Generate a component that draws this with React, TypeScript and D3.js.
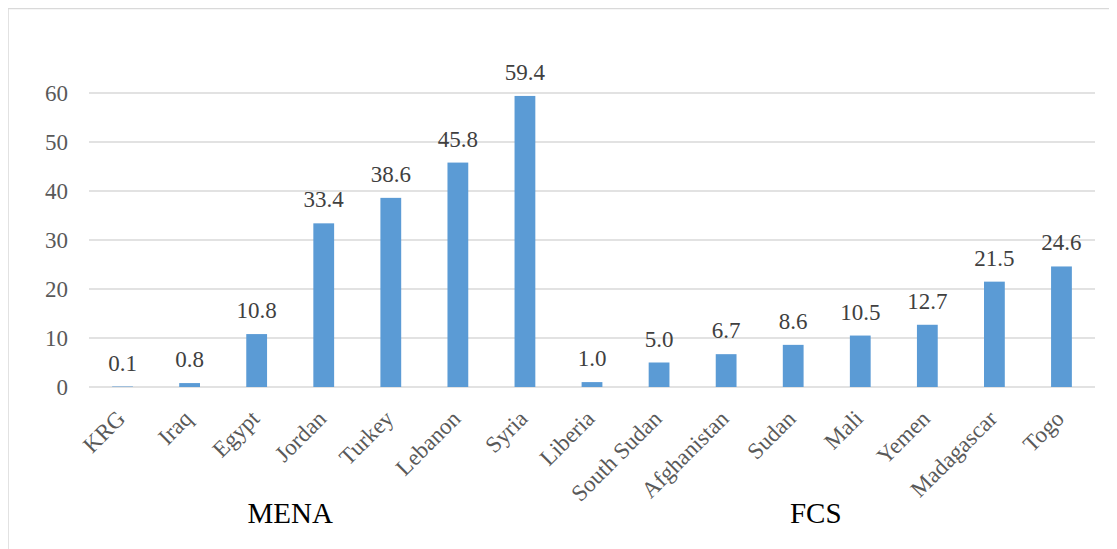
import { useEffect, useRef } from 'react'
import * as d3 from 'd3'

const countries = [
    'KRG', 'Iraq', 'Egypt', 'Jordan', 'Turkey', 'Lebanon', 'Syria',
    'Liberia', 'South Sudan', 'Afghanistan', 'Sudan', 'Mali', 'Yemen', 'Madagascar', 'Togo',
]
const values = [0.1, 0.8, 10.8, 33.4, 38.6, 45.8, 59.4, 1.0, 5.0, 6.7, 8.6, 10.5, 12.7, 21.5, 24.6]
const yTicks = [0, 10, 20, 30, 40, 50, 60]
const groups = [
    { name: 'MENA', at: 'Jordan', shift: 0 },
    { name: 'FCS', at: 'Mali', shift: -11 },
]

const App = () => {
    const ref = useRef<SVGSVGElement>(null)

    useEffect(() => {
        const width = 1109
        const height = 541
        const margin = { left: 81, right: 22, top: 85, bottom: 162 }
        const font = '"Liberation Serif", "Times New Roman", serif'

        const svg = d3.select(ref.current)
        svg.selectAll('*').remove()

        // frame (only top and left edges visible)
        svg.append('path')
            .attr('d', `M0,${height}V0.5H${width}`)
            .attr('fill', 'none')
            .attr('stroke', '#d9d9d9')
            .attr('stroke-width', 1.5)

        const x = d3
            .scaleBand()
            .domain(countries)
            .range([margin.left, width - margin.right])
            .paddingInner(0.69)
            .paddingOuter(0.345)

        const y = d3
            .scaleLinear()
            .domain([0, 60])
            .range([height - margin.bottom, margin.top])

        // gridlines
        svg.append('g')
            .selectAll('line')
            .data(yTicks)
            .join('line')
            .attr('x1', margin.left)
            .attr('x2', width - margin.right)
            .attr('y1', (d) => y(d))
            .attr('y2', (d) => y(d))
            .attr('stroke', '#d9d9d9')
            .attr('stroke-width', 1.5)

        // y tick labels
        svg.append('g')
            .selectAll('text')
            .data(yTicks)
            .join('text')
            .attr('x', margin.left - 21)
            .attr('y', (d) => y(d))
            .attr('dy', '0.35em')
            .attr('text-anchor', 'end')
            .attr('font-family', font)
            .attr('font-size', 23)
            .attr('fill', '#595959')
            .text((d) => d)

        // bars
        svg.append('g')
            .selectAll('rect')
            .data(values)
            .join('rect')
            .attr('x', (_, i) => x(countries[i]) as number)
            .attr('width', x.bandwidth())
            .attr('y', (d) => y(d))
            .attr('height', (d) => y(0) - y(d))
            .attr('fill', '#5b9bd5')

        // value labels
        svg.append('g')
            .selectAll('text')
            .data(values)
            .join('text')
            .attr('x', (_, i) => (x(countries[i]) as number) + x.bandwidth() / 2)
            .attr('y', (d) => y(d) - 16)
            .attr('text-anchor', 'middle')
            .attr('font-family', font)
            .attr('font-size', 23)
            .attr('fill', '#404040')
            .text((d) => d.toFixed(1))

        // category labels
        svg.append('g')
            .selectAll('text')
            .data(countries)
            .join('text')
            .attr('transform', (d) => {
                const cx = (x(d) as number) + x.bandwidth() / 2 + 4
                return `translate(${cx},${y(0) + 33}) rotate(-45)`
            })
            .attr('text-anchor', 'end')
            .attr('font-family', font)
            .attr('font-size', 23)
            .attr('fill', '#595959')
            .text((d) => d)

        // group labels
        svg.append('g')
            .selectAll('text')
            .data(groups)
            .join('text')
            .attr('x', (d) => (x(d.at) as number) - x.step() * x.paddingInner() / 2 + d.shift)
            .attr('y', height - 26)
            .attr('text-anchor', 'middle')
            .attr('font-family', font)
            .attr('font-size', 29)
            .attr('fill', '#000')
            .text((d) => d.name)
    }, [])

    return <svg ref={ref} width={1109} height={541} style={{ display: 'block' }} />
}

export default App
